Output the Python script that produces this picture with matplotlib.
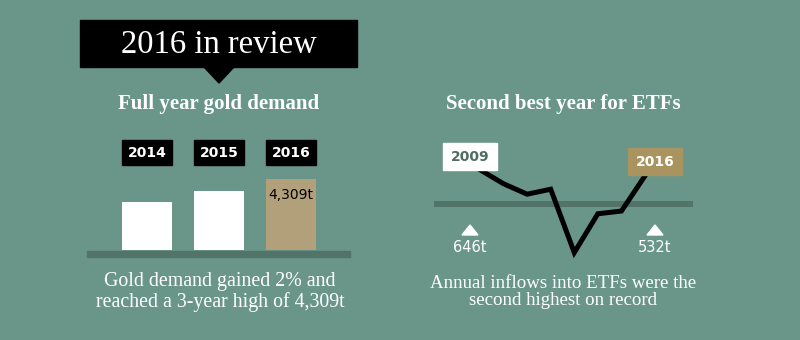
import matplotlib
matplotlib.use("Agg")
import matplotlib.pyplot as plt
from matplotlib.patches import Rectangle, Polygon
from matplotlib import transforms

# ---- data ----
demand_years = ["2014", "2015", "2016"]
demand_tonnes = [4144, 4223, 4309]
demand_label = "4,309t"

etf_years = [2009, 2010, 2011, 2012, 2013, 2014, 2015, 2016]
etf_flows = [646, 382, 185, 279, -916, -184, -133, 532]
etf_first_label = "646t"
etf_last_label = "532t"

title = "2016 in review"
left_heading = "Full year gold demand"
right_heading = "Second best year for ETFs"
left_caption = "Gold demand gained 2% and\nreached a 3-year high of 4,309t"
right_caption = "Annual inflows into ETFs were the\nsecond highest on record"

# ---- style ----
BG = "#6a968a"
BASE = "#527468"
TAN = "#b1a07a"
TAN2 = "#a9945f"
DARKTXT = "#4f6d64"

W, H = 800, 340
fig = plt.figure(figsize=(W / 100, H / 100), dpi=100, facecolor=BG)

def px_axes(x0, y0, x1, y1):
    # pixel box (top-left origin) -> figure fraction axes
    return fig.add_axes([x0 / W, 1 - y1 / H, (x1 - x0) / W, (y1 - y0) / H])

# overlay axes in pixel coordinates (top-left origin)
ov = fig.add_axes([0, 0, 1, 1], zorder=5)
ov.set_xlim(0, W)
ov.set_ylim(H, 0)
ov.axis("off")
ov.patch.set_alpha(0)

# ---- title box ----
ov.add_patch(Rectangle((80, 20), 277, 47, color="black"))
ov.add_patch(Polygon([(203, 66), (235, 66), (219, 83)], closed=True, color="black"))
ov.text(219, 44.5, title, color="white", fontsize=23.5, family="Liberation Serif",
        ha="center", va="center")

ov.text(218.5, 104, left_heading, color="white", fontsize=15, family="Liberation Serif",
        fontweight="bold", ha="center", va="center")
ov.text(563, 104, right_heading, color="white", fontsize=15, family="Liberation Serif",
        fontweight="bold", ha="center", va="center")

ov.text(220, 292, left_caption, color="white", fontsize=14.3, family="Liberation Serif",
        ha="center", va="center", linespacing=1.02)
ov.text(563, 292, right_caption, color="white", fontsize=13.6, family="Liberation Serif",
        ha="center", va="center", linespacing=1.07)

# ---- bar chart ----
px_per_t = 71 / (4309 - 3800)
bx0, bx1 = 87, 350
by_top, by_bot = 120, 250
ax1 = px_axes(bx0, by_top, bx1, by_bot)
ax1.set_facecolor("none")
xs = list(range(len(demand_years)))
step = 72.0
ax1.set_xlim(-(147 - bx0) / step, (bx1 - 147) / step)
ax1.set_ylim(3800, 3800 + (by_bot - by_top) / px_per_t)
bw = 50 / step
colors = ["white"] * (len(xs) - 1) + [TAN]
ax1.bar(xs, demand_tonnes, width=bw, bottom=0, color=colors, zorder=2)
ax1.axis("off")
ov.add_patch(Rectangle((bx0, 251), bx1 - bx0, 6, color=BASE))

blend = transforms.blended_transform_factory(ax1.transData, ov.transData)
for x, yr in zip(xs, demand_years):
    ov.add_patch(Rectangle((x - bw / 2, 140), bw, 25, color="black", transform=blend))
    ov.text(x, 153, yr, transform=blend, color="white", fontsize=10,
            fontweight="bold", family="DejaVu Sans", ha="center", va="center")
ax1.annotate(demand_label, (xs[-1], demand_tonnes[-1]), xytext=(0, -16),
             textcoords="offset pixels", ha="center", va="center",
             fontsize=10, color="black", family="DejaVu Sans", zorder=4)

# ---- ETF line chart ----
lx0, lx1 = 434, 693
ly_top, ly_bot = 130, 270
ppy = (645 - 480) / 7.0
s = 0.053
c = 204.0
ax2 = px_axes(lx0, ly_top, lx1, ly_bot)
ax2.set_facecolor("none")
ax2.set_xlim(2009 - (480 - lx0) / ppy, 2016 + (lx1 - 645) / ppy)
ax2.set_ylim((c - ly_bot) / s, (c - ly_top) / s)
ax2.axhline(0, color=BASE, lw=4.3, zorder=1)
ax2.plot(etf_years, etf_flows, color="black", lw=3.6, zorder=3,
         solid_joinstyle="miter")
ax2.axis("off")

# year boxes
ov.add_patch(Rectangle((443, 143), 54, 27, color="white", zorder=6))
ov.text(470, 157, str(etf_years[0]), color=DARKTXT, fontsize=10, fontweight="bold",
        family="DejaVu Sans", ha="center", va="center", zorder=7)
ov.add_patch(Rectangle((628, 148), 54, 27, color=TAN2, zorder=6))
ov.text(655, 162, str(etf_years[-1]), color="white", fontsize=10, fontweight="bold",
        family="DejaVu Sans", ha="center", va="center", zorder=7)

# triangles + labels
for xc, lab in [(470, etf_first_label), (655, etf_last_label)]:
    ov.add_patch(Polygon([(xc - 8, 235), (xc + 8, 235), (xc, 225)], closed=True,
                         color="white"))
    ov.text(xc, 248, lab, color="white", fontsize=10.5, family="DejaVu Sans",
            ha="center", va="center")

fig.savefig("out.png", dpi=100, facecolor=BG)
